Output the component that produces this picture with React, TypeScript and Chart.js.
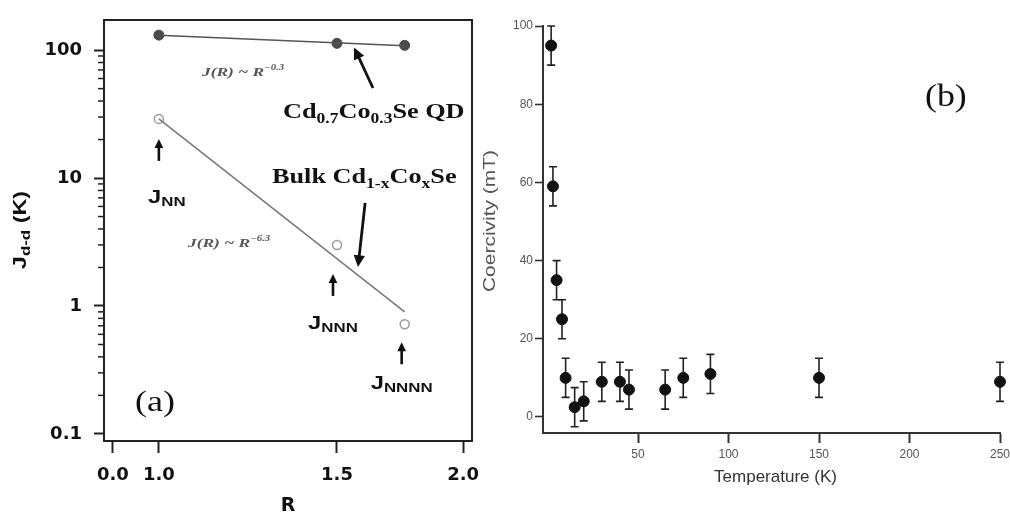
import React, { useEffect, useRef } from 'react';
import { Chart, registerables } from 'chart.js';

Chart.register(...registerables);

// ---------- Panel (a): d-d exchange constant versus distance R ----------
const rTickLabels = ['0.0', '1.0', '1.5', '2.0'];
const rTickValues = [0.871, 1.0, 1.5, 1.854];
const jTickValues = [0.1, 1, 10, 100];

const qdR = [1.0, 1.5, 1.69];
const qdJ = [131, 113, 109];
const qdFitR = [1.0, 1.69];
const qdFitJ = [131, 108];

const bulkR = [1.0, 1.5, 1.69];
const bulkJ = [29, 3.0, 0.72];
const bulkFitR = [1.0, 1.69];
const bulkFitJ = [29, 0.9];

// ---------- Panel (b): coercivity versus temperature ----------
const temperature = [2, 3, 5, 8, 10, 15, 20, 30, 40, 45, 65, 75, 90, 150, 250];
const coercivity = [95, 59, 35, 25, 10, 2.5, 4, 9, 9, 7, 7, 10, 11, 10, 9];
const coercivityErr = [5, 5, 5, 5, 5, 5, 5, 5, 5, 5, 5, 5, 5, 5, 5];
const tempTickValues = [50, 100, 150, 200, 250];
const coerTickValues = [0, 20, 40, 60, 80, 100];

type Run = { t: string; k?: 'sub' | 'sup' };
type RichOpts = {
  size: number;
  family: string;
  weight?: string;
  style?: string;
  color: string;
  align?: 'left' | 'center';
  sx?: number;
  subSize?: number;
  subDy?: number;
  supDy?: number;
  rotate?: number;
};

function drawRich(ctx: CanvasRenderingContext2D, runs: Run[], x: number, y: number, o: RichOpts) {
  const subSize = o.subSize ?? o.size * 0.65;
  const fontFor = (k?: string) =>
    `${o.style ?? 'normal'} ${o.weight ?? 'normal'} ${k ? subSize : o.size}px ${o.family}`;
  let total = 0;
  const widths = runs.map((r) => {
    ctx.font = fontFor(r.k);
    const w = ctx.measureText(r.t).width;
    total += w;
    return w;
  });
  ctx.save();
  ctx.translate(x, y);
  if (o.rotate) ctx.rotate(o.rotate);
  ctx.scale(o.sx ?? 1, 1);
  ctx.fillStyle = o.color;
  ctx.textBaseline = 'alphabetic';
  ctx.textAlign = 'left';
  let cx = (o.align ?? 'left') === 'center' ? -total / 2 : 0;
  runs.forEach((r, i) => {
    ctx.font = fontFor(r.k);
    const dy = r.k === 'sub' ? o.subDy ?? o.size * 0.3 : r.k === 'sup' ? o.supDy ?? -o.size * 0.4 : 0;
    ctx.fillText(r.t, cx, dy);
    cx += widths[i];
  });
  ctx.restore();
}

function arrow(ctx: CanvasRenderingContext2D, x1: number, y1: number, x2: number, y2: number, w: number, head: number) {
  const a = Math.atan2(y2 - y1, x2 - x1);
  ctx.save();
  ctx.strokeStyle = '#111';
  ctx.fillStyle = '#111';
  ctx.lineWidth = w;
  ctx.beginPath();
  ctx.moveTo(x1, y1);
  ctx.lineTo(x2 - Math.cos(a) * head * 0.7, y2 - Math.sin(a) * head * 0.7);
  ctx.stroke();
  ctx.beginPath();
  ctx.moveTo(x2, y2);
  ctx.lineTo(x2 - head * Math.cos(a - 0.45), y2 - head * Math.sin(a - 0.45));
  ctx.lineTo(x2 - head * Math.cos(a + 0.45), y2 - head * Math.sin(a + 0.45));
  ctx.closePath();
  ctx.fill();
  ctx.restore();
}

const pts = (xs: number[], ys: number[]) => xs.map((x, i) => ({ x, y: ys[i] }));

const minorJTicks: number[] = [];
[0.1, 1, 10].forEach((d) => {
  for (let m = 2; m <= 9; m++) minorJTicks.push(d * m);
});

const SERIF = '"Liberation Serif", "Times New Roman", serif';
const SANS = '"Liberation Sans", Arial, sans-serif';
const DEJAVU = '"DejaVu Sans", sans-serif';

// keep the plot box exactly where the layout padding puts it
const fixX = (h: number) => (s: any) => {
  s.height = h;
  s.paddingLeft = 0;
  s.paddingRight = 0;
};
const fixY = (w: number) => (s: any) => {
  s.width = w;
  s.paddingTop = 0;
  s.paddingBottom = 0;
};

const panelAPlugin = {
  id: 'panelA',
  beforeDatasetsDraw(chart: any) {
    const { ctx, chartArea: ca, scales } = chart;
    ctx.save();
    ctx.strokeStyle = '#222';
    ctx.lineWidth = 2;
    ctx.strokeRect(ca.left, ca.top, ca.right - ca.left, ca.bottom - ca.top);
    // minor log ticks
    ctx.lineWidth = 1.5;
    minorJTicks.forEach((v) => {
      const y = scales.y.getPixelForValue(v);
      ctx.beginPath();
      ctx.moveTo(ca.left - 6, y);
      ctx.lineTo(ca.left, y);
      ctx.stroke();
    });
    ctx.restore();
  },
  afterDraw(chart: any) {
    const { ctx, scales } = chart;
    const px = (v: number) => scales.x.getPixelForValue(v);
    const py = (v: number) => scales.y.getPixelForValue(v);

    // fit laws
    const lawOpts: RichOpts = { size: 12, family: SERIF, style: 'italic', weight: 'bold', color: '#555', sx: 1.45, subSize: 7.5, supDy: -6 };
    drawRich(ctx, [{ t: 'J(R) ~ R' }, { t: '−0.3', k: 'sup' }], 202, 76, lawOpts);
    drawRich(ctx, [{ t: 'J(R) ~ R' }, { t: '−6.3', k: 'sup' }], 188, 247, lawOpts);

    // sample names
    const nameOpts: RichOpts = { size: 21, family: SERIF, weight: 'bold', color: '#111', sx: 1.25, subSize: 14, subDy: 5 };
    drawRich(ctx, [{ t: 'Cd' }, { t: '0.7', k: 'sub' }, { t: 'Co' }, { t: '0.3', k: 'sub' }, { t: 'Se QD' }], 283, 118, nameOpts);
    drawRich(ctx, [{ t: 'Bulk Cd' }, { t: '1-x', k: 'sub' }, { t: 'Co' }, { t: 'x', k: 'sub' }, { t: 'Se' }], 272, 183, nameOpts);

    // arrows to the fit lines
    arrow(ctx, px(1.601), py(50.6), px(1.548), py(105), 2.8, 13);
    arrow(ctx, px(1.579), py(6.4), px(1.559), py(2.02), 2.8, 13);

    // neighbour labels
    const jOpts: RichOpts = { size: 19, family: SANS, weight: 'bold', color: '#111', align: 'center', sx: 1.25, subSize: 13.5, subDy: 3 };
    const labels: [number, number, string, number, number, number][] = [
      [bulkR[0], bulkJ[0], 'NN', 0, 20, 84],
      [bulkR[1], bulkJ[1], 'NNN', -4, 29, 84],
      [bulkR[2], bulkJ[2], 'NNNN', -3, 18, 65],
    ];
    labels.forEach(([r, j, sub, dx, tipOff, textOff]) => {
      const x = px(r) + dx;
      const y = py(j);
      arrow(ctx, x, y + tipOff + 22, x, y + tipOff, 2.6, 10);
      drawRich(ctx, [{ t: 'J' }, { t: sub, k: 'sub' }], x + (sub === 'NN' ? 8 : 0), y + textOff, jOpts);
    });

    // panel tag
    drawRich(ctx, [{ t: '(a)' }], 135, 411, { size: 30, family: SERIF, color: '#111', sx: 1.2 });

    // axis titles
    drawRich(ctx, [{ t: 'J' }, { t: 'd-d', k: 'sub' }, { t: ' (K)' }], 26, 230, {
      size: 18, family: SANS, weight: 'bold', color: '#111', align: 'center', sx: 1.3, subSize: 13, subDy: 4, rotate: -Math.PI / 2,
    });
    drawRich(ctx, [{ t: 'R' }], (chart.chartArea.left + chart.chartArea.right) / 2, 511, {
      size: 19, family: DEJAVU, weight: 'bold', color: '#111', align: 'center',
    });
  },
};

const panelBPlugin = {
  id: 'panelB',
  beforeDatasetsDraw(chart: any) {
    const { ctx, scales } = chart;
    ctx.save();
    ctx.strokeStyle = '#222';
    ctx.lineWidth = 1.6;
    temperature.forEach((t, i) => {
      const x = scales.x.getPixelForValue(t);
      const yHi = scales.y.getPixelForValue(coercivity[i] + coercivityErr[i]);
      const yLo = scales.y.getPixelForValue(coercivity[i] - coercivityErr[i]);
      ctx.beginPath();
      ctx.moveTo(x, yHi);
      ctx.lineTo(x, yLo);
      ctx.moveTo(x - 4, yHi);
      ctx.lineTo(x + 4, yHi);
      ctx.moveTo(x - 4, yLo);
      ctx.lineTo(x + 4, yLo);
      ctx.stroke();
    });
    ctx.restore();
  },
  afterDraw(chart: any) {
    const { ctx, chartArea: ca } = chart;
    drawRich(ctx, [{ t: 'Temperature (K)' }], (ca.left + ca.right) / 2 + 4, 482, {
      size: 17, family: SANS, color: '#333', align: 'center',
    });
    drawRich(ctx, [{ t: 'Coercivity (mT)' }], 25, 221, {
      size: 16.5, family: SANS, color: '#555', align: 'center', sx: 1.27, rotate: -Math.PI / 2,
    });
    drawRich(ctx, [{ t: '(b)' }], 455, 106, { size: 32, family: SERIF, color: '#111', sx: 1.12 });
  },
};

export default function App() {
  const refA = useRef<HTMLCanvasElement>(null);
  const refB = useRef<HTMLCanvasElement>(null);

  useEffect(() => {
    if (!refA.current || !refB.current) return;

    const chartA = new Chart(refA.current, {
      type: 'scatter',
      data: {
        datasets: [
          { data: pts(qdFitR, qdFitJ), showLine: true, borderColor: '#555', borderWidth: 1.5, pointRadius: 0 },
          { data: pts(bulkFitR, bulkFitJ), showLine: true, borderColor: '#777', borderWidth: 1.5, pointRadius: 0 },
          { data: pts(qdR, qdJ), pointRadius: 5, pointBackgroundColor: '#4a4a4a', pointBorderColor: '#4a4a4a', clip: false },
          { data: pts(bulkR, bulkJ), pointRadius: 4.5, pointBackgroundColor: '#fff', pointBorderColor: '#999', pointBorderWidth: 1.5, clip: false },
        ],
      } as any,
      options: {
        animation: false,
        responsive: false,
        maintainAspectRatio: false,
        layout: { padding: { top: 20, right: 13, left: 0, bottom: 0 } },
        plugins: { legend: { display: false }, tooltip: { enabled: false } },
        scales: {
          x: {
            type: 'linear',
            min: 0.846,
            max: 1.879,
            afterBuildTicks: (s: any) => { s.ticks = rTickValues.map((v) => ({ value: v })); },
            afterFit: fixX(72),
            border: { display: false },
            grid: { drawOnChartArea: false, tickLength: 12, tickWidth: 2, tickColor: '#222' },
            ticks: {
              autoSkip: false,
              maxRotation: 0,
              padding: 12,
              color: '#111',
              font: { family: DEJAVU, weight: 'bold', size: 18 },
              callback: (_v: any, i: number) => rTickLabels[i],
            },
          },
          y: {
            type: 'logarithmic',
            min: 0.088,
            max: 172,
            afterBuildTicks: (s: any) => { s.ticks = jTickValues.map((v) => ({ value: v })); },
            afterFit: fixY(104),
            border: { display: false },
            grid: { drawOnChartArea: false, tickLength: 10, tickWidth: 2, tickColor: '#222' },
            ticks: {
              autoSkip: false,
              padding: 12,
              color: '#111',
              font: { family: DEJAVU, weight: 'bold', size: 18 },
              callback: (v: any) => String(v),
            },
          },
        },
      } as any,
      plugins: [panelAPlugin],
    });

    const chartB = new Chart(refB.current, {
      type: 'scatter',
      data: {
        datasets: [
          {
            data: pts(temperature, coercivity),
            pointRadius: 5.5,
            pointBackgroundColor: '#111',
            pointBorderColor: '#111',
            clip: false,
          },
        ],
      } as any,
      options: {
        animation: false,
        responsive: false,
        maintainAspectRatio: false,
        layout: { padding: { top: 26, right: 10, left: 0, bottom: 0 } },
        plugins: { legend: { display: false }, tooltip: { enabled: false } },
        scales: {
          x: {
            type: 'linear',
            min: -2.5,
            max: 250,
            afterBuildTicks: (s: any) => { s.ticks = tempTickValues.map((v) => ({ value: v })); },
            afterFit: fixX(80),
            border: { display: true, color: '#333', width: 2 },
            grid: { drawOnChartArea: false, tickLength: 10, tickWidth: 2, tickColor: '#333' },
            ticks: { autoSkip: false, maxRotation: 0, padding: 4, color: '#555', font: { family: SANS, size: 12 } },
          },
          y: {
            type: 'linear',
            min: -4.1,
            max: 100,
            afterBuildTicks: (s: any) => { s.ticks = coerTickValues.map((v) => ({ value: v })); },
            afterFit: fixY(73),
            border: { display: true, color: '#333', width: 2 },
            grid: { drawOnChartArea: false, tickLength: 8, tickWidth: 1.6, tickColor: '#333' },
            ticks: { autoSkip: false, padding: 2, color: '#555', font: { family: SANS, size: 12 } },
          },
        },
      } as any,
      plugins: [panelBPlugin],
    });

    return () => {
      chartA.destroy();
      chartB.destroy();
    };
  }, []);

  return (
    <div style={{ position: 'fixed', left: 0, top: 0, width: 1010, height: 513, background: '#fff', overflow: 'hidden' }}>
      <canvas ref={refA} width={485} height={513} style={{ position: 'absolute', left: 0, top: 0 }} />
      <canvas ref={refB} width={540} height={513} style={{ position: 'absolute', left: 470, top: 0 }} />
    </div>
  );
}
